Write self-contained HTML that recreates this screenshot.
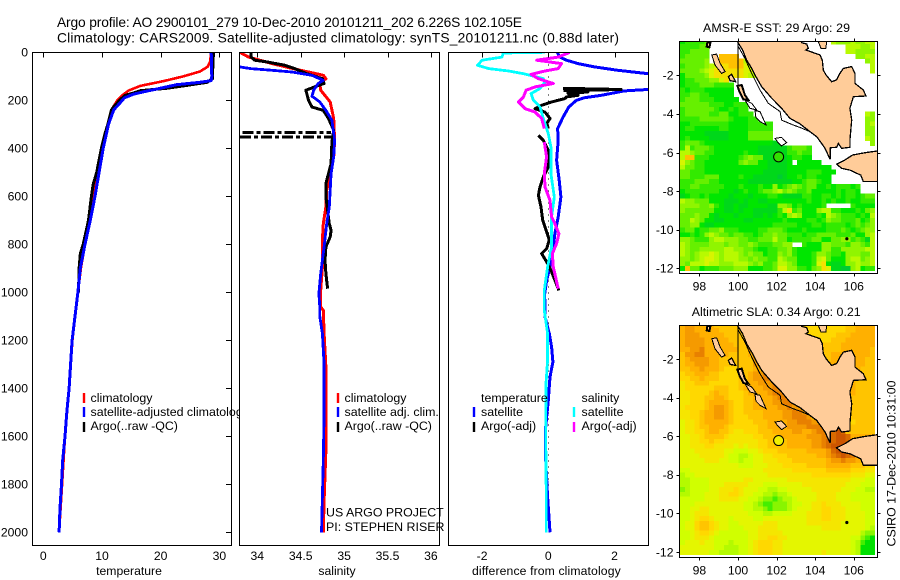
<!DOCTYPE html>
<html lang="en">
<head>
<meta charset="utf-8">
<title>Argo profile 2900101_279</title>
<style>
html,body{margin:0;padding:0;background:#fff;}
svg{display:block;font-family:"Liberation Sans",sans-serif;font-size:12.2px;fill:#000;}
.frame{fill:none;stroke:#000;stroke-width:1;shape-rendering:crispEdges;}
.bg{fill:#fff;stroke:none;}
.legend text{font-size:12.4px;}
</style>
</head>
<body>
<svg id="chart" xmlns="http://www.w3.org/2000/svg" width="900" height="580" viewBox="0 0 900 580">
<defs>
<clipPath id="clip-temp"><rect x="32.5" y="52.5" width="199" height="493"/></clipPath>
<clipPath id="clip-sal"><rect x="239.5" y="52.5" width="200" height="493"/></clipPath>
<clipPath id="clip-diff"><rect x="448.5" y="52.5" width="200" height="493"/></clipPath>
<clipPath id="clip-map-top"><rect x="679.5" y="41.5" width="198" height="232"/></clipPath>
<clipPath id="clip-map-bottom"><rect x="679.5" y="325.5" width="198" height="232"/></clipPath>
</defs>
<rect class="bg" width="900" height="580"/>
<text x="57" y="27" style="font-size:13.8px" textLength="465">Argo profile: AO 2900101_279 10-Dec-2010 20101211_202 6.226S 102.105E</text>
<text x="57" y="42.5" style="font-size:13.8px" textLength="562">Climatology: CARS2009. Satellite-adjusted climatology: synTS_20101211.nc (0.88d later)</text>

<g id="panel-temp">
<rect class="bg" x="32.5" y="52.5" width="199" height="493"/>
<g id="marks-temp" clip-path="url(#clip-temp)"></g>
<g id="ticks-temp"></g>
<g class="legend">
<line x1="84" x2="84" y1="393" y2="403" stroke="#f00" stroke-width="2.4"/>
<text x="90.5" y="402">climatology</text>
<line x1="84" x2="84" y1="407" y2="417" stroke="#00f" stroke-width="2.4"/>
<text x="90.5" y="416">satellite-adjusted climatology</text>
<line x1="84" x2="84" y1="422" y2="432" stroke="#000" stroke-width="2.4"/>
<text x="90.5" y="430">Argo(..raw -QC)</text>
</g>
<rect class="frame" x="32.5" y="52.5" width="199" height="493"/>
<text x="129" y="575" text-anchor="middle">temperature</text>
</g>

<g id="panel-sal">
<rect class="bg" x="239.5" y="52.5" width="200" height="493"/>
<g id="marks-sal" clip-path="url(#clip-sal)"></g>
<g id="ticks-sal"></g>
<g class="legend">
<line x1="338" x2="338" y1="393" y2="403" stroke="#f00" stroke-width="2.4"/>
<text x="344.5" y="402">climatology</text>
<line x1="338" x2="338" y1="407" y2="417" stroke="#00f" stroke-width="2.4"/>
<text x="344.5" y="416">satellite adj. clim.</text>
<line x1="338" x2="338" y1="422" y2="432" stroke="#000" stroke-width="2.4"/>
<text x="344.5" y="430">Argo(..raw -QC)</text>
</g>
<text x="326" y="516.5" style="font-size:12.4px">US ARGO PROJECT</text>
<text x="326" y="531" style="font-size:12.4px">PI: STEPHEN RISER</text>
<rect class="frame" x="239.5" y="52.5" width="200" height="493"/>
<text x="337" y="575" text-anchor="middle">salinity</text>
</g>

<g id="panel-diff">
<rect class="bg" x="448.5" y="52.5" width="200" height="493"/>
<g id="marks-diff" clip-path="url(#clip-diff)"></g>
<g id="ticks-diff"></g>
<g class="legend">
<text x="481" y="402">temperature</text>
<line x1="474" x2="474" y1="407" y2="417" stroke="#00f" stroke-width="2.4"/>
<text x="481" y="416">satellite</text>
<line x1="474" x2="474" y1="422" y2="432" stroke="#000" stroke-width="2.4"/>
<text x="481" y="430">Argo(-adj)</text>
<text x="581.5" y="402">salinity</text>
<line x1="574" x2="574" y1="407" y2="417" stroke="#0ff" stroke-width="2.4"/>
<text x="581.5" y="416">satellite</text>
<line x1="574" x2="574" y1="422" y2="432" stroke="#f0f" stroke-width="2.4"/>
<text x="581.5" y="430">Argo(-adj)</text>
</g>
<rect class="frame" x="448.5" y="52.5" width="200" height="493"/>
<text x="472" y="575" textLength="148.7">difference from climatology</text>
</g>

<g id="map-top">
<text x="703" y="32" textLength="147" style="font-size:12.4px">AMSR-E SST: 29 Argo: 29</text>
<g id="cells-top" clip-path="url(#clip-map-top)"></g>
<g id="land-top" clip-path="url(#clip-map-top)"></g>
<g id="ticks-top"></g>
<rect class="frame" x="679.5" y="41.5" width="198" height="232"/>
</g>

<g id="map-bottom">
<text x="691.7" y="316" textLength="169" style="font-size:12.4px">Altimetric SLA: 0.34 Argo: 0.21</text>
<g id="cells-bottom" clip-path="url(#clip-map-bottom)"></g>
<g id="land-bottom" clip-path="url(#clip-map-bottom)"></g>
<g id="ticks-bottom"></g>
<rect class="frame" x="679.5" y="325.5" width="198" height="232"/>
</g>
<text transform="translate(895.5,463.5) rotate(-90)" text-anchor="middle" style="font-size:12.4px">CSIRO 17-Dec-2010 10:31:00</text>
</svg>

<script>
// ---- tick labels ----
const depthTicks = [0,200,400,600,800,1000,1200,1400,1600,1800,2000];
const tempTicks = [0,10,20,30];
const salTicks = [34,34.5,35,35.5,36];
const diffTicks = [-2,0,2];
const lonTicks = [98,100,102,104,106];
const latTicks = [-2,-4,-6,-8,-10,-12];

// ---- temperature profiles ----
const tempClimDepth = [0,40,60,80,100,120,140,160,180,200,240,300,340,400,500,600,700,800,900,1000,1200,1400,1600,1800,2000];
const tempClimValue = [28.6,28.4,28,26.7,23.9,20.5,16.5,14.5,13.4,12.6,11.6,11,10.7,10.1,9.4,8.5,7.8,7.1,6.4,5.9,4.95,4.4,3.7,3.2,2.7];
const tempSatDepth = [0,100,118,125,135,150,165,175,190,210,240,300,400,500,600,700,800,900,1000,1100,1200,1400,1500,1600,1700,1800,1900,2000];
const tempSatValue = [28.6,28.7,28.6,26.7,22.7,19.9,17,15.3,13.8,13.1,12,11.1,10.2,9.5,8.8,8,7.1,6.3,5.9,5.4,4.9,4.4,4,3.7,3.3,3.1,2.85,2.7];
const tempArgoDepth = [0,50,110,125,140,150,160,170,180,200,230,240,300,340,400,500,550,600,700,800,840,900,1000];
const tempArgoValue = [29,28.9,28.8,27.9,23.9,21,16.5,15.3,13.9,13,11.9,11.6,11,10.5,9.9,9.1,8.5,8.2,7.7,6.8,6.3,6.1,6];

// ---- salinity profiles ----
const salClimDepth = [0,20,47,68,82,96,110,130,158,207,276,367,436,505,575,644,714,783,894,992,1061,1075,1172,1311,1450,1658,1867,2000];
const salClimValue = [33.8,33.9,34.17,34.41,34.59,34.76,34.79,34.72,34.73,34.84,34.88,34.89,34.88,34.84,34.8,34.79,34.76,34.75,34.75,34.73,34.73,34.76,34.77,34.79,34.79,34.79,34.77,34.76];
const salSatDepth = [61,68,75,82,96,117,130,158,183,207,242,283,367,436,505,575,644,714,811,922,1006,1061,1100,1172,1300,1500,1700,1850,2000];
const salSatValue = [33.8,33.92,34.17,34.4,34.63,34.76,34.7,34.65,34.63,34.72,34.79,34.86,34.89,34.88,34.85,34.84,34.83,34.8,34.77,34.73,34.71,34.72,34.72,34.75,34.77,34.77,34.76,34.75,34.74];
const salArgoDepth = [0,20,33,40,54,68,89,110,130,144,158,200,228,242,276,325,374,464,505,547,603,658,714,742,769,811,867,922,985];
const salArgoValue = [33.93,33.93,33.97,34.11,34.32,34.43,34.57,34.75,34.77,34.66,34.56,34.59,34.63,34.76,34.82,34.88,34.86,34.85,34.82,34.79,34.79,34.81,34.83,34.85,34.84,34.79,34.78,34.79,34.81];
const salSpikeDepth = [335,353];
const salSpikeLow = [33.83,33.8];
const salSpikeHigh = [34.85,34.87];

// ---- differences from climatology ----
const diffTempSatDepth = [0,20,33,47,61,75,89,110,140,155,161,179,189,200,228,269,318,367,450,533,603,686,756,839,894,950,1019,1033,1103,1172,1228,1290,1353,1450,1561,1700,1853,1936,2000];
const diffTempSatValue = [0.27,0.35,0.55,0.9,1.4,2.1,3.02,6,6,3,2.3,1.6,1.1,0.85,0.62,0.45,0.28,0.3,0.25,0.33,0.38,0.3,0.2,0.12,0.05,-0.05,-0.12,-0.1,-0.1,0.03,0.1,0.14,0.05,0,-0.08,-0.08,-0.02,0.02,0.05];
const diffTempArgoDepth = [150,155,160,165,172,179,186,193,207,221,235,249,276,297,318,330,346,367,408,478,519,561,596,644,700,748,783,818,839,873,908,950,992];
const diffTempArgoValue = [0.45,2.2,0.5,1.2,0.6,0.9,0.55,0.5,0.1,-0.2,-0.4,-0.1,0.05,-0.05,0,null,-0.3,-0.15,0,0,-0.15,-0.25,-0.3,-0.22,-0.17,-0.05,0.03,-0.05,-0.2,-0.05,0.08,0.2,0.32];
const diffSalSatDepth = [0,3,20,33,54,68,78,89,110,124,151,172,200,228,276,339,394,505,603,686,811,894,992,1061,1075,1117,1172,1283,1380,1588,1867,2000];
const diffSalSatValue = [-0.1,-1.36,-1.4,-2,-2.14,-1.8,-1.2,-0.75,-0.15,-0.1,-0.25,-0.52,-0.45,-0.25,-0.15,0,0.08,0.08,0.18,0.1,0.1,-0.02,-0.12,-0.12,-0.12,-0.08,-0.02,-0.02,-0.07,-0.08,-0.06,-0.06];
const diffSalArgoDepth = [0,20,33,47,68,78,92,110,130,144,158,186,207,235,249,276,318,340,374,436,505,561,617,686,714,756,797,839,894,985];
const diffSalArgoValue = [0.65,0.3,-0.35,0.4,0.3,-0.1,-0.52,-0.3,0.15,-0.4,-0.67,-0.75,-0.9,-0.7,-0.4,-0.2,-0.12,null,-0.12,-0.05,-0.12,-0.1,0.05,0.1,0.2,0.32,0.25,0.12,0.15,0.3];

// ---- gridded satellite fields (one letter per cell, '.' = no data) ----
const sstRows = [
"cdddde.... .......... .......... .gfffgffgg",
"ddddee.... .......... .......... ....gggffg",
"ddeeee.... .......... .......... ....ggffff",
"deeeee..jj jj........ .......... ......ffgg",
"eeeeef.gjj jjjggg.... .......... ........fg",
"deeeefghii jjjhgg.... .......... .........g",
"eeeefghiii iiihhg.... .......... .........g",
"ceeeefhiii iiihgg.... .......... ..........",
"cddeeeffhi .......... .......... ..........",
"cdddeeeddd d......... .......... ..........",
"dcdddccccc c......... .......... ..........",
"ddeeddcccc c......... .......... ..........",
"deeedddccc cc........ .......... ..........",
"eeeeeedddc cddd...... .......... ..........",
"deeeeeedcc dcdd...... .......... ..........",
"deeeeeddee ccddd..... .......... ........gf",
"ddddeeeeee dcccdd.... .......... ........ff",
"ccdddddddd ccccddddd. .......... ........fg",
"cddcccccdd ccccddddd. .......... ........ff",
"cccccbbbbb cccceeeee. .......... ........ff",
"cdccccbbbb cccceeeee. .......... ........gf",
"deeedccccc cccccccccb b......... .........f",
"dgdeeedccc ccccccbbbb bbdeeed... ..........",
"ggfeeddccc cccdccbbbb bbddedd... ..........",
"gjjdddcccc ccdefeebbb bbcddcc... ..........",
"hfeddccccc ccefeeccbb bbc.ccccc. ..........",
"geeddccccc ccccccccbb bbcccccccc c.........",
"eedddccccc cccccccbbb bbccccdddc cc........",
"eedddeeecc ccdccbbbbb abccdcddcc c.........",
"dddeeeddcc ccccbbbbbb bbbccdeedc c.........",
"ddeedddddc ccdcccdccf cdefedeecc dcdddcd...",
"cdddddddcc cbcdccdeef gefeddeccc ccdcddc...",
"bcddcdcccc bcccbcccdd cbbbbddccd dcdcddcdee",
"gffeeecccb bbcbccbbcc ccccccdccd cdccdccddd",
"ffffeefdcb bcbbccccbb ffecdccccd .....dcccc",
"feeeeeeccb bcbccbbbbb dgidecccfg gddcccdcef",
"eeefeecbcc cbcccbbcbc dcfgfcccdc gfedddcdcg",
"eegfeccbbc cccbbccccc cdccccddcd feedddecdf",
"eeffcbbccc cccccccccd ddddcccddc ddddcdedef",
"deecddeefd ddccccddee edcccdcccc dddedcdeff",
"ccdcdfgfee deeddcdeef eedddcddee eedddeccfg",
"ffedddfggf ffeeddeeeg eecddddeec ceeffdedbg",
"gfeeeefffe ffeefeddde eff..dcccf feeedffedg",
"gfeefffffg gffeedccdd eefdcccccf fddfffffgg",
"gfefgghgfg ggfefeecdd fefdcccdff eddcfffeeg",
"ffefghhgfg ggffefeedd gfeecccdgh ecccfggefg",
"feggghggff fgggfefdde ggfecccdhi cbbcffgffg",
"cjeecdddee efffcccdde hhffddcefi hbbaafgcdd"
];
const slaRows = [
"9aa9999888 8888888888 8888887777 7777889999",
"9aa9999988 8888888888 8888887777 7777889999",
"9aaa999998 8888888888 8888887777 7788899999",
"9aaaa99999 8888888888 8888887777 7888999999",
"9aaaa99999 9888a88888 8888888888 8889999999",
"99aab99999 9988aa8888 8888888888 8889999998",
"8aabb99999 88889aa888 8888888888 8999999998",
"89aaaa9988 88888aaa88 8888888888 8999999988",
"899aaa9988 88888aab88 8888888888 9999999988",
"8899a99987 7788899ab8 8888888888 9999999888",
"7889998877 77889aabba 8888888888 9999999888",
"7788988877 77889aabbb 8888888888 8999998888",
"6778887777 778899aaab 8888888888 8889998888",
"6777777888 7789999aab a888888888 8889998888",
"6677778988 77789999ab ba88888888 8888998888",
"6677788998 777889999a bba8888888 8889988888",
"6677789999 877889999a abba888888 8889988888",
"6777789aa9 8778899999 aabaa88888 8899988888",
"6677899aa9 8778888999 9aabba8888 8999988888",
"6677899aa9 8777888999 9aabbba888 8899988888",
"5667899999 8777788899 99aabbbaa8 8899978888",
"5667889998 7777778899 99aaaabbba a999888888",
"5667789988 7667778889 999aa99abb bcdc888888",
"5566788887 6666677888 999999aaab bcddc99999",
"5566778776 6666667788 8899999aab ccddcb9999",
"5566677666 6565667788 8899999aab cddddcb998",
"5556666665 5444556777 8888889999 acdddc9999",
"5555666665 4433455667 7788888899 abcdcb9998",
"5555566655 4434455666 7778888888 9aabaa9888",
"5555555555 5544455566 6777778888 9999988877",
"4455555555 5555555666 6667777777 8888877766",
"3445555555 5555555566 6666666777 7777766655",
"3344445555 5556655555 5566666666 6666655544",
"3344445556 6666555444 5555566666 6666555444",
"2344445566 6765554433 4455555666 6665554433",
"3344455566 7765544332 3345555566 6655544444",
"4444455566 6655443221 2334555566 6655544444",
"4445555555 5554432112 2234455667 6665555444",
"4455665555 5554433212 2234555667 7666555444",
"4456665555 5555444334 4445556667 7666555544",
"4456776555 4555544555 5555556667 7666555544",
"4557887655 4455555666 5555556666 6665555544",
"4557887655 4445556666 5555555556 6665555543",
"4456776544 4444556666 6555555555 5555555322",
"4456665444 4444556677 6655555555 5555544210",
"4555655444 3444567776 6555555555 5555543100",
"5555555443 3344567776 6555555555 5555543000",
"5555554433 3344567776 6555555556 5555543000"
];

// ---- geography (lon, lat) ----
const mainlandLon = [99.97,100.24,100.45,100.71,100.93,101.23,101.75,102.26,102.69,103.21,103.73,104.08,104.33,104.51,104.77,104.79,105.11,105.2,105.37,105.8,105.8,105.89,105.8,105.98,106.63,106.49,106.06,106.06,105.89,105.46,105.28,105.11,104.85,104.56,104.42,104.37,104.25,103.52,103.64,103.56,103.3,103.3,99.97];
const mainlandLat = [-0.26,-0.69,-1.21,-1.64,-2.07,-2.59,-3.19,-3.71,-4.23,-4.52,-4.92,-5.18,-5.53,-5.78,-6.35,-5.75,-5.73,-5.53,-5.78,-5.73,-5.35,-4.32,-3.71,-3.11,-3.07,-2.76,-2.42,-1.9,-1.55,-1.64,-1.9,-2.24,-2.33,-1.98,-1.73,-1.21,-0.95,-0.69,-0.6,-0.38,-0.31,-0.1,-0.1];
const javaLon = [105.94,106.58,107.22,107.6,107.6,106.49,106.36,105.8,105.37,105.11,105.54];
const javaLat = [-6.13,-6.01,-5.92,-5.92,-7.5,-7.51,-7.17,-6.91,-6.82,-6.6,-6.39];
const islandOneLon = [98.64,98.89,99.07,99.33,99.15,98.81];
const islandOneLat = [-0.95,-0.9,-1.38,-1.81,-1.9,-1.47];
const islandTwoLon = [99.5,99.67,99.88,99.59];
const islandTwoLat = [-2.07,-1.95,-2.33,-2.28];
const islandThreeLon = [99.97,100.19,100.36,100.54,100.28,100.07];
const islandThreeLat = [-2.55,-2.5,-3.02,-3.28,-3.25,-2.85];
const islandFourLon = [100.36,100.71,100.97,100.62];
const islandFourLat = [-3.28,-3.45,-3.8,-3.71];
const islandFiveLon = [100.88,101.14,101.45,101.14,100.93];
const islandFiveLat = [-3.83,-3.88,-4.57,-4.4,-4.18];
const islandSixLon = [101.92,102.26,102.52,102.26,102.04];
const islandSixLat = [-5.27,-5.21,-5.49,-5.66,-5.44];
const islandSevenLon = [98.41,98.58,98.52,98.38];
const islandSevenLat = [-0.31,-0.26,-0.55,-0.52];
const islandEightLon = [104.16,104.6,104.55,104.3];
const islandEightLat = [-0.26,-0.24,-0.6,-0.6];
const shelfLon = [100.02,100.36,100.71,101.14,101.57,102.18,102.26,102.87,103.21,103.73];
const shelfLat = [-0.52,-1.12,-1.9,-2.76,-3.45,-3.88,-4.32,-4.58,-4.7,-4.92];
const meridianLon = [100,100];
const meridianLat = [-0.2,-2.6];
const isleDotLon = [105.64];
const isleDotLat = [-10.47];
const floatLon = 102.105;
const floatLat = -6.226;

// ---- axis functions ----
function yDepth(d){return 52.3+d*0.24;}
function xTemp(t){return 43.3+t*5.87;}
function xSal(s){return 257.3+(s-34)*86.8;}
function xDiff(v){return 548.3+v*33.1;}
function xLon(lon){return 738+(lon-100)*19.3;}
function yLatTop(lat){return 75.3+(-2-lat)*19.3;}
function yLatBottom(lat){return 359+(-2-lat)*19.3;}

const NS = 'http://www.w3.org/2000/svg';
const sstColors = {a:'#00cc33',b:'#00d81a',c:'#00e600',d:'#33ea00',e:'#66f000',f:'#90f500',g:'#b8fa00',h:'#d8f500',i:'#f5e000',j:'#ffc000'};
const slaColors = {'0':'#00e000','1':'#44ee00','2':'#88f500','3':'#b4fa00','4':'#d0ff00','5':'#e4f600','6':'#f5e600','7':'#ffd800','8':'#ffc400','9':'#ffb000','a':'#f59a00','b':'#e88000','c':'#d96a00','d':'#cc5500'};

function svgEl(tag, parent){
  const el = document.createElementNS(NS, tag);
  parent.appendChild(el);
  return el;
}
function $(id){return document.getElementById(id);}

function drawSeries(parent, depths, values, xFn, color, width, name){
  let d = '', pen = false;
  for(let i=0;i<depths.length;i++){
    if(values[i]===null){pen=false;continue;}
    d += (pen?'L':'M')+xFn(values[i]).toFixed(1)+' '+yDepth(depths[i]).toFixed(1);
    pen = true;
  }
  const el = svgEl('path', parent);
  
  
  el.setAttribute('d', d);
  el.setAttribute('fill', 'none');
  el.setAttribute('stroke', color);
  el.setAttribute('stroke-width', width);
  el.setAttribute('stroke-linejoin', 'round');
  el.setAttribute('shape-rendering', 'crispEdges');
}

function tickLine(parent, x1, y1, x2, y2){
  const el = svgEl('line', parent);
  
  
  el.setAttribute('x1', x1);
  el.setAttribute('y1', y1);
  el.setAttribute('x2', x2);
  el.setAttribute('y2', y2);
  el.setAttribute('stroke', '#000');
  el.setAttribute('stroke-width', 1);
  el.setAttribute('shape-rendering', 'crispEdges');
}
function tickText(parent, x, y, anchor, label){
  const el = svgEl('text', parent);
  
  
  el.setAttribute('x', x);
  el.setAttribute('y', y);
  el.setAttribute('text-anchor', anchor);
  el.textContent = label;
}

// temperature panel
const mt = $('marks-temp');
drawSeries(mt, tempClimDepth, tempClimValue, xTemp, '#ff0000', 2.6, 'temperature-climatology-line');
drawSeries(mt, tempArgoDepth, tempArgoValue, xTemp, '#000000', 3, 'temperature-argo-line');
drawSeries(mt, tempSatDepth, tempSatValue, xTemp, '#0000ff', 3, 'temperature-satellite-line');
const tt = $('ticks-temp');
tempTicks.forEach(function(v){
  tickLine(tt, Math.round(xTemp(v))+0.5, 52.5, Math.round(xTemp(v))+0.5, 57.5);
  tickText(tt, xTemp(v), 560, 'middle', String(v));
});
depthTicks.forEach(function(d){
  const y = Math.round(yDepth(d))+0.5;
  tickLine(tt, 226, y, 231.5, y);
  tickText(tt, 28, yDepth(d)+4.3, 'end', String(d));
});

// salinity panel
const ms = $('marks-sal');
drawSeries(ms, salClimDepth, salClimValue, xSal, '#ff0000', 3, 'salinity-climatology-line');
drawSeries(ms, salArgoDepth, salArgoValue, xSal, '#000000', 3, 'salinity-argo-line');
drawSeries(ms, salSatDepth, salSatValue, xSal, '#0000ff', 2.8, 'salinity-satellite-line');
salSpikeDepth.forEach(function(d, i){
  const el = svgEl('line', ms);
  
  
  el.setAttribute('x1', xSal(salSpikeLow[i]));
  el.setAttribute('x2', xSal(salSpikeHigh[i]));
  el.setAttribute('y1', yDepth(d));
  el.setAttribute('y2', yDepth(d));
  el.setAttribute('stroke', '#000');
  el.setAttribute('stroke-width', 3);
  el.setAttribute('stroke-dasharray', '11 3 4 3');
  el.setAttribute('shape-rendering', 'crispEdges');
});
const ts = $('ticks-sal');
salTicks.forEach(function(v){
  tickLine(ts, Math.round(xSal(v))+0.5, 52.5, Math.round(xSal(v))+0.5, 57.5);
  tickText(ts, xSal(v), 560, 'middle', String(v));
});

// difference panel
const md = $('marks-diff');
const zeroLine = svgEl('line', md);


zeroLine.setAttribute('x1', xDiff(0));
zeroLine.setAttribute('x2', xDiff(0));
zeroLine.setAttribute('y1', yDepth(0));
zeroLine.setAttribute('y2', yDepth(2000));
zeroLine.setAttribute('stroke', '#000');
zeroLine.setAttribute('stroke-width', 1);
zeroLine.setAttribute('stroke-dasharray', '1 5');
zeroLine.setAttribute('shape-rendering', 'crispEdges');
drawSeries(md, diffTempSatDepth, diffTempSatValue, xDiff, '#0000ff', 3, 'difference-temp-satellite-line');
drawSeries(md, diffTempArgoDepth, diffTempArgoValue, xDiff, '#000000', 3, 'difference-temp-argo-line');
drawSeries(md, diffSalSatDepth, diffSalSatValue, xDiff, '#00ffff', 2.8, 'difference-sal-satellite-line');
drawSeries(md, diffSalArgoDepth, diffSalArgoValue, xDiff, '#ff00ff', 3, 'difference-sal-argo-line');
const td = $('ticks-diff');
diffTicks.forEach(function(v){
  tickLine(td, Math.round(xDiff(v))+0.5, 52.5, Math.round(xDiff(v))+0.5, 57.5);
  tickText(td, xDiff(v), 560, 'middle', String(v));
});

// maps
const gridLon0 = 96.995, gridLonStep = 0.2525, gridLat0 = -0.135, gridLatStep = 0.25;
function drawCells(parent, rows, colors, yFn, name){
  rows.forEach(function(row, i){
    const chars = row.replace(/ /g, '');
    for(let j=0;j<chars.length;j++){
      const color = colors[chars[j]];
      if(!color) continue;
      const lon = gridLon0 + j*gridLonStep;
      const lat = gridLat0 - i*gridLatStep;
      const cell = svgEl('rect', parent);
      
      
      cell.setAttribute('x', xLon(lon).toFixed(2));
      cell.setAttribute('y', yFn(lat).toFixed(2));
      cell.setAttribute('width', (xLon(lon+gridLonStep)-xLon(lon)+0.3).toFixed(2));
      cell.setAttribute('height', (yFn(lat-gridLatStep)-yFn(lat)+0.3).toFixed(2));
      cell.setAttribute('fill', color);
      cell.setAttribute('shape-rendering', 'crispEdges');
    }
  });
}
function drawShape(parent, lons, lats, yFn, fill, closed, width, name){
  let d = '';
  lons.forEach(function(lon, i){
    d += (i?'L':'M')+xLon(lon).toFixed(1)+' '+yFn(lats[i]).toFixed(1);
  });
  if(closed) d += 'Z';
  const el = svgEl('path', parent);
  
  
  el.setAttribute('d', d);
  el.setAttribute('fill', fill);
  el.setAttribute('stroke', '#000');
  el.setAttribute('stroke-width', width);
  el.setAttribute('shape-rendering', 'crispEdges');
}
function drawGeography(parent, yFn, markerFill, pale){
  const land = '#ffcc99';
  drawShape(parent, mainlandLon, mainlandLat, yFn, land, true, 1.3, 'sumatra-landmass');
  drawShape(parent, javaLon, javaLat, yFn, land, true, 1.3, 'java-landmass');
  drawShape(parent, islandOneLon, islandOneLat, yFn, land, true, 1, 'island');
  drawShape(parent, islandTwoLon, islandTwoLat, yFn, land, true, 1.3, 'island');
  drawShape(parent, islandThreeLon, islandThreeLat, yFn, land, true, 2, 'island');
  drawShape(parent, islandFourLon, islandFourLat, yFn, pale, true, 1, 'island');
  drawShape(parent, islandFiveLon, islandFiveLat, yFn, pale, true, 1, 'island');
  drawShape(parent, islandSixLon, islandSixLat, yFn, pale, true, 1, 'island');
  drawShape(parent, islandSevenLon, islandSevenLat, yFn, land, true, 2, 'island');
  drawShape(parent, islandEightLon, islandEightLat, yFn, land, true, 1, 'island');
  drawShape(parent, shelfLon, shelfLat, yFn, 'none', false, 1, 'shelf-contour');
  drawShape(parent, meridianLon, meridianLat, yFn, 'none', false, 1, 'meridian-line');
  isleDotLon.forEach(function(lon, i){
    const dot = svgEl('circle', parent);
    
    
    dot.setAttribute('cx', xLon(lon));
    dot.setAttribute('cy', yFn(isleDotLat[i]));
    dot.setAttribute('r', 1.6);
    dot.setAttribute('fill', '#000');
  });
  const marker = svgEl('circle', parent);
  
  
  marker.setAttribute('cx', xLon(floatLon));
  marker.setAttribute('cy', yFn(floatLat));
  marker.setAttribute('r', 5);
  marker.setAttribute('fill', markerFill);
  marker.setAttribute('stroke', '#000');
  marker.setAttribute('stroke-width', 1);
}
function drawMapTicks(parent, yFn, top, bottom, labelY){
  lonTicks.forEach(function(v){
    const x = Math.round(xLon(v))+0.5;
    tickLine(parent, x, top-3, x, top);
    tickLine(parent, x, bottom, x, bottom+3);
    tickText(parent, xLon(v), labelY, 'middle', String(v));
  });
  latTicks.forEach(function(v){
    const y = Math.round(yFn(v))+0.5;
    tickLine(parent, 676.5, y, 679.5, y);
    tickLine(parent, 877.5, y, 880.5, y);
    tickText(parent, 673.5, yFn(v)+4.3, 'end', String(v));
  });
}
drawCells($('cells-top'), sstRows, sstColors, yLatTop, 'sst-cell');
drawGeography($('land-top'), yLatTop, '#33e000', '#ffffff');
drawMapTicks($('ticks-top'), yLatTop, 41.5, 273.5, 290.5);
drawCells($('cells-bottom'), slaRows, slaColors, yLatBottom, 'sla-cell');
drawGeography($('land-bottom'), yLatBottom, '#f0f000', '#ffcc99');
drawMapTicks($('ticks-bottom'), yLatBottom, 325.5, 557.5, 574.5);
</script>
</body>
</html>
